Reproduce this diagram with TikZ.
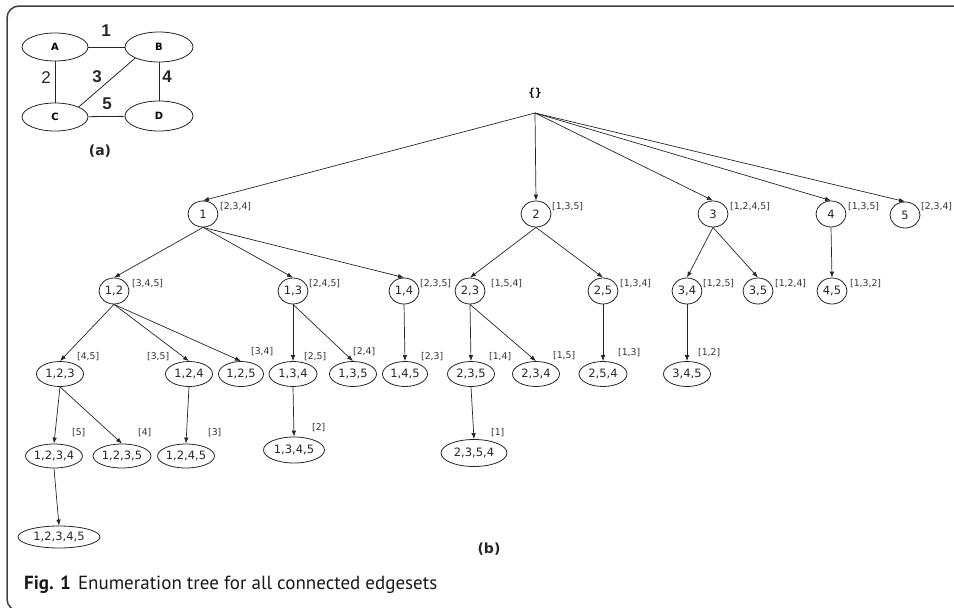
\documentclass[tikz,border=0pt]{standalone}
\usepackage{fontspec}
\setmainfont{DejaVu Sans}
\newfontfamily\capfont{PT Sans}
\newfontfamily\arialf{Liberation Sans}
\newfontfamily\monof{DejaVu Sans Mono}
\usetikzlibrary{shapes.geometric,arrows.meta}
\begin{document}
\begin{tikzpicture}[x=1pt,y=-1pt,
  tn/.style={draw=black!85,ellipse,inner sep=0pt,line width=0.8pt,font=\fontsize{11.5}{13}\selectfont,text=black!85},
  cc/.style={tn,minimum width=30pt,minimum height=26pt},
  e3/.style={tn,minimum width=47pt,minimum height=25pt},
  e4/.style={tn,minimum height=24pt},
  lab/.style={anchor=west,inner sep=0pt,font=\fontsize{9.3}{10}\selectfont,text=black!80},
  ar/.style={-{Latex[length=6pt,width=4.5pt]},line width=0.7pt,draw=black!85},
  gn/.style={draw=black!85,ellipse,inner sep=0pt,line width=0.8pt,minimum width=66pt,minimum height=28pt,font=\bfseries\fontsize{10}{12}\selectfont},
  gl/.style={inner sep=0pt,font=\arialf\fontsize{17}{19}\selectfont,text=black!85},
  gb/.style={gl,font=\bfseries\arialf\fontsize{17}{19}\selectfont},
  ge/.style={line width=0.8pt,draw=black!85},
  sub/.style={inner sep=0pt,font=\bfseries\fontsize{14}{16}\selectfont,text=black!85}
]
\useasboundingbox (0,0) rectangle (954,608);
% frame
\draw[black!75,line width=1.5pt,rounded corners=12pt] (960,6) -- (7,6) -- (7,611) -- (960,611);

% ---- (a) graph
\node[gn] (A) at (55,47) {A};
\node[gn,minimum width=68pt,minimum height=30pt] (B) at (159,47) {B};
\node[gn] (C) at (55,117) {C};
\node[gn,minimum width=68pt,minimum height=30pt] (D) at (159,116) {D};
\draw[ge] (A) -- (B);
\draw[ge] (A) -- (C);
\draw[ge] (B.205) -- (C.23);
\draw[ge] (B) -- (D);
\draw[ge] (C) -- (D);
\node[gb] (l1) at (106,31) {1};
\node[gl] (l2) at (46,78) {2};
\node[gb] (l3) at (97,77) {3};
\node[gb] (l4) at (167,77) {4};
\node[gb] (l5) at (107,104) {5};
\node[sub] (suba) at (100,151) {(a)};

% ---- (b) tree
\node[inner sep=0pt,font=\monof\bfseries\fontsize{11}{12}\selectfont] (rootlab) at (535,93) {\{\}};
\coordinate (root) at (535,113);

% level 1
\node[cc] (n1) at (203,214) {1};
\node[cc] (n2) at (536,214) {2};
\node[cc] (n3) at (713,214) {3};
\node[cc] (n4) at (831,214) {4};
\node[cc] (n5) at (905,215) {5};
\node[lab] (t1) at (220,207) {[2,3,4]};
\node[lab] (t2) at (552,207) {[1,3,5]};
\node[lab] (t3) at (730,207) {[1,2,4,5]};
\node[lab] (t4) at (848,207) {[1,3,5]};
\node[lab] (t5) at (921,207) {[2,3,4]};

% level 2
\node[cc] (n12) at (114,291) {1,2};
\node[cc] (n13) at (293,291) {1,3};
\node[cc] (n14) at (404,291) {1,4};
\node[cc] (n23) at (470,291) {2,3};
\node[cc] (n25) at (603,291) {2,5};
\node[cc] (n34) at (687,291) {3,4};
\node[cc] (n35) at (758,291) {3,5};
\node[cc] (n45) at (832,291) {4,5};
\node[lab] (t12) at (132,284) {[3,4,5]};
\node[lab] (t13) at (309,284) {[2,4,5]};
\node[lab] (t14) at (420,284) {[2,3,5]};
\node[lab] (t23) at (491,284) {[1,5,4]};
\node[lab] (t25) at (620,284) {[1,3,4]};
\node[lab] (t34) at (703,284) {[1,2,5]};
\node[lab] (t35) at (775,284) {[1,2,4]};
\node[lab] (t45) at (850,284) {[1,3,2]};

% level 3
\node[e3] (n123) at (60,374) {1,2,3};
\node[e3] (n124) at (189,374) {1,2,4};
\node[e3,minimum width=45pt] (n125) at (241,374) {1,2,5};
\node[e3,minimum width=48pt] (n134) at (293,374) {1,3,4};
\node[e3] (n135) at (353,374) {1,3,5};
\node[e3,minimum width=45pt] (n145) at (405,374) {1,4,5};
\node[e3] (n235) at (471,374) {2,3,5};
\node[e3] (n234) at (536,374) {2,3,4};
\node[e3,minimum width=48pt] (n254) at (603,374) {2,5,4};
\node[e3] (n345) at (687,374) {3,4,5};
\node[lab] (t123) at (77,357) {[4,5]};
\node[lab] (t124) at (147,357) {[3,5]};
\node[lab] (t125) at (251,352) {[3,4]};
\node[lab] (t134) at (304,357) {[2,5]};
\node[lab] (t135) at (353,352) {[2,4]};
\node[lab] (t145) at (421,357) {[2,3]};
\node[lab] (t235) at (489,357) {[1,4]};
\node[lab] (t234) at (553,356) {[1,5]};
\node[lab] (t254) at (618,353) {[1,3]};
\node[lab] (t345) at (698,353) {[1,2]};

% level 4
\node[e4,minimum width=53pt] (n1234) at (54,456) {1,2,3,4};
\node[e4,minimum width=58pt] (n1235) at (122,456) {1,2,3,5};
\node[e4,minimum width=53pt] (n1245) at (186,456) {1,2,4,5};
\node[e4,minimum width=61pt,minimum height=26pt] (n1345) at (294,450) {1,3,4,5};
\node[e4,minimum width=66pt,minimum height=27pt] (n2354) at (474,453) {2,3,5,4};
\node[lab] (t1234) at (72,433) {[5]};
\node[lab] (t1235) at (138,433) {[4]};
\node[lab] (t1245) at (208,433) {[3]};
\node[lab] (t1345) at (312,428) {[2]};
\node[lab] (t2354) at (491,433) {[1]};

% level 5
\node[tn,minimum width=82pt,minimum height=22pt] (n12345) at (59,537) {1,2,3,4,5};

% edges
\foreach \c in {n1,n2,n3,n4,n5} \draw[ar] (root) -- (\c.north);
\foreach \p/\c in {n1/n12,n1/n13,n1/n14,n12/n123,n12/n124,n12/n125,n13/n134,n13/n135,n14/n145,
  n2/n23,n2/n25,n23/n235,n23/n234,n25/n254,n3/n34,n3/n35,n4/n45,n34/n345,
  n123/n1234,n123/n1235,n124/n1245,n134/n1345,n235/n2354,n1234/n12345}
  \draw[ar] (\p.south) -- (\c.north);

\node[sub] (subb) at (489,549) {(b)};

% caption
\node[anchor=base west,inner sep=0pt,font=\capfont\fontsize{19}{21}\selectfont,text=black!90] (cap) at (24,589)
  {\textbf{Fig. 1}\hspace{7pt}Enumeration tree for all connected edgesets};
\end{tikzpicture}
\end{document}
